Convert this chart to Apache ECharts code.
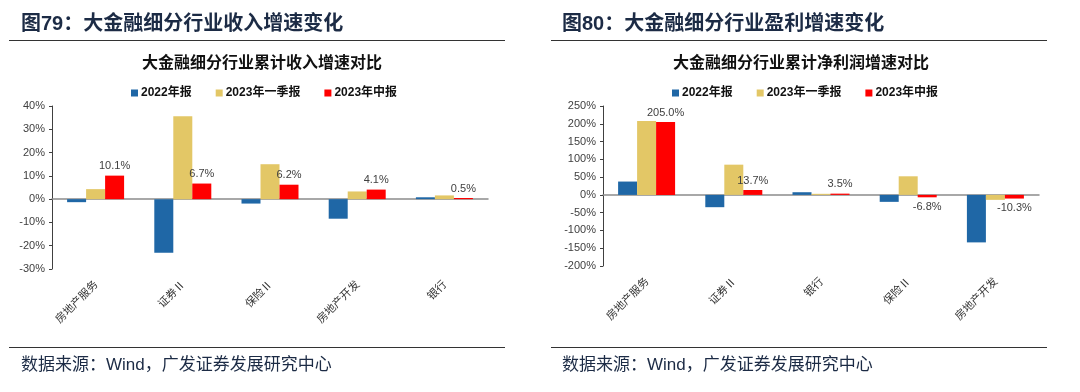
<!DOCTYPE html>
<html>
<head>
<meta charset="utf-8">
<script src="https://cdn.jsdelivr.net/npm/echarts@6/dist/echarts.min.js"></script>
<style>
html,body{margin:0;padding:0;background:#fff;}
#chart{width:1080px;height:392px;}
</style>
</head>
<body>
<div id="chart"></div>
<script>
// ---- data ----
const seriesNames = ['2022年报', '2023年一季报', '2023年中报'];
const revenueCategories = ['房地产服务', '证券Ⅱ', '保险Ⅱ', '房地产开发', '银行'];
const revenue2022 = [-1.3, -23.0, -1.9, -8.4, 0.8];
const revenue2023Q1 = [4.3, 35.6, 15.0, 3.3, 1.6];
const revenue2023H1 = [10.1, 6.7, 6.2, 4.1, 0.5];

const profitCategories = ['房地产服务', '证券Ⅱ', '银行', '保险Ⅱ', '房地产开发'];
const profit2022 = [37.5, -34.6, 7.5, -19.6, -133.6];
const profit2023Q1 = [207.5, 85.0, 3.0, 52.3, -14.0];
const profit2023H1 = [205.0, 13.7, 3.5, -6.8, -10.3];

const revenueTicks = { min: -30, max: 40, interval: 10 };
const profitTicks = { min: -200, max: 250, interval: 50 };

const colors = ['#1F67A6', '#E3C766', '#FF0000'];
const FONT = '"Liberation Sans", "Noto Sans CJK SC", sans-serif';
const CJK = '"Noto Sans CJK SC", sans-serif';

const chart = echarts.init(document.getElementById('chart'), null, { renderer: 'canvas' });

function xAxes(gridIndex, cats) {
  return [
    { type: 'category', gridIndex, data: cats,
      axisLine: { onZero: true, lineStyle: { color: '#8c8c8c', width: 1.5 } },
      axisTick: { show: false }, axisLabel: { show: false } },
    { type: 'category', gridIndex, data: cats, position: 'bottom',
      axisLine: { show: false, onZero: false }, axisTick: { show: false },
      axisLabel: { rotate: 45, margin: 13, fontSize: 11, color: '#333', fontFamily: CJK, interval: 0 } }
  ];
}
function yAxis(gridIndex, t) {
  return { type: 'value', gridIndex, min: t.min, max: t.max, interval: t.interval,
    axisLine: { show: true, lineStyle: { color: '#404040', width: 1 } },
    axisTick: { show: true, length: 3, lineStyle: { color: '#404040' } },
    splitLine: { show: false },
    axisLabel: { formatter: '{value}%', fontSize: 11, color: '#404040', fontFamily: FONT, margin: 7 } };
}
function bars(xIdx, yIdx, arr, i, withLabel) {
  return { name: seriesNames[i], type: 'bar', xAxisIndex: xIdx, yAxisIndex: yIdx,
    barWidth: 19, barGap: '0%', itemStyle: { color: colors[i] },
    data: arr.map(v => ({ value: v,
      label: withLabel ? { show: true, position: v >= 0 ? 'top' : 'bottom', distance: 4,
        formatter: p => p.value.toFixed(1) + '%', fontSize: 11, color: '#404040', fontFamily: FONT } : { show: false } })) };
}
function legend(left) {
  return { left, top: 82, itemWidth: 7, itemHeight: 7, itemGap: 24, icon: 'rect',
    data: seriesNames.map(n => ({ name: n })),
    textStyle: { fontSize: 12, fontWeight: 'bold', color: '#111', fontFamily: FONT, padding: [0, 0, 0, -2] } };
}
function txt(x, y, text, size, weight, fill, align, family) {
  return { type: 'text', x, y, silent: true,
    style: { text, fontSize: size, fontWeight: weight, fill, fontFamily: family || CJK, align: align || 'left', verticalAlign: 'middle' } };
}
function hline(x1, x2, y) {
  return { type: 'line', silent: true, shape: { x1, y1: y, x2, y2: y }, style: { stroke: '#333', lineWidth: 1 } };
}

const option = {
  animation: false,
  color: colors,
  grid: [
    { left: 52, top: 106, width: 436, height: 163 },
    { left: 603, top: 106, width: 436, height: 160 }
  ],
  legend: [legend(126), legend(667)],
  xAxis: [...xAxes(0, revenueCategories), ...xAxes(1, profitCategories)],
  yAxis: [yAxis(0, revenueTicks), yAxis(1, profitTicks)],
  series: [
    bars(0, 0, revenue2022, 0, false),
    bars(0, 0, revenue2023Q1, 1, false),
    bars(0, 0, revenue2023H1, 2, true),
    bars(2, 1, profit2022, 0, false),
    bars(2, 1, profit2023Q1, 1, false),
    bars(2, 1, profit2023H1, 2, true)
  ],
  graphic: [
    txt(21, 24, '图79：大金融细分行业收入增速变化', 20, 'bold', '#1c2b45', 'left', FONT),
    txt(562, 24, '图80：大金融细分行业盈利增速变化', 20, 'bold', '#1c2b45', 'left', FONT),
    hline(9, 505, 40.5),
    hline(551, 1047, 40.5),
    txt(262, 62, '大金融细分行业累计收入增速对比', 16, 'bold', '#111', 'center'),
    txt(801, 62, '大金融细分行业累计净利润增速对比', 16, 'bold', '#111', 'center'),
    hline(9, 505, 347.5),
    hline(551, 1047, 347.5),
    txt(21, 365, '数据来源：Wind，广发证券发展研究中心', 17, 'normal', '#1c2b45', 'left', FONT),
    txt(562, 365, '数据来源：Wind，广发证券发展研究中心', 17, 'normal', '#1c2b45', 'left', FONT)
  ]
};
chart.setOption(option);
</script>
</body>
</html>
